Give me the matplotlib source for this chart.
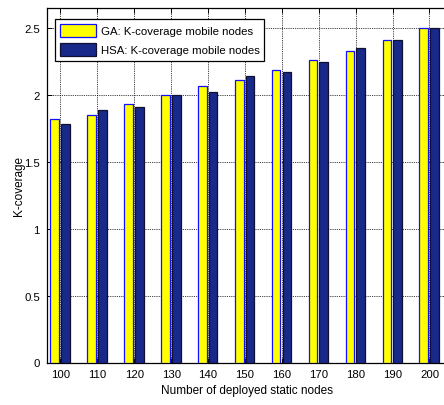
import numpy as np
import matplotlib
matplotlib.use("Agg")
import matplotlib.pyplot as plt

plt.rcParams['font.family'] = ['Liberation Sans', 'DejaVu Sans']

static_nodes = ['100', '110', '120', '130', '140', '150', '160', '170', '180', '190', '200']
ga_coverage = [1.82, 1.85, 1.93, 2.00, 2.07, 2.11, 2.19, 2.26, 2.33, 2.41, 2.50]
hsa_coverage = [1.78, 1.89, 1.91, 2.00, 2.02, 2.14, 2.17, 2.25, 2.35, 2.41, 2.50]

W, H = 444, 406
fig = plt.figure(figsize=(W / 100, H / 100), dpi=100)

# axes box in pixels (left, bottom, right, top); the right spine runs off the canvas
left_px, right_px, top_px, bottom_px = 46.7, 447.9, 9.0, 363.5
ax = fig.add_axes([left_px / W, 1 - bottom_px / H,
                   (right_px - left_px) / W, (bottom_px - top_px) / H])

x = np.arange(1, len(static_nodes) + 1)
bw = 0.235
ax.bar(x - 0.155, ga_coverage, width=bw, color='#ffff00', edgecolor='#1010ff',
       linewidth=0.9, label='GA: K-coverage mobile nodes', zorder=3)
ax.bar(x + 0.135, hsa_coverage, width=bw, color='#18298a', edgecolor='#101030',
       linewidth=0.9, label='HSA: K-coverage mobile nodes', zorder=3)

ax.set_xlim(0.626, 11.5)
ax.set_ylim(0, 2.651)
ax.set_xticks(x)
ax.set_xticklabels(static_nodes)
ax.set_yticks([0, 0.5, 1, 1.5, 2, 2.5])
ax.set_yticklabels(['0', '0.5', '1', '1.5', '2', '2.5'])

ax.grid(True, linestyle=(0, (1, 1.2)), color='black', linewidth=0.6, zorder=1)
ax.set_axisbelow(True)
ax.tick_params(direction='in', length=3.5, width=0.7, top=True, right=True,
               labelsize=8.2, colors='black')
ax.tick_params(axis='x', pad=5)
ax.tick_params(axis='y', pad=5)
for s in ax.spines.values():
    s.set_linewidth(0.9)
    s.set_color('black')

ax.set_xlabel('Number of deployed static nodes', fontsize=8.5, labelpad=3)
ax.set_ylabel('K-coverage', fontsize=8.5, labelpad=-1)

leg = ax.legend(loc='upper left', bbox_to_anchor=(8.3 / (right_px - left_px), 1 - 11 / (bottom_px - top_px)),
                borderaxespad=0, fontsize=8.2, fancybox=False, framealpha=1,
                edgecolor='black', handlelength=3.2, handleheight=1.4,
                labelspacing=0.55, borderpad=0.4, handletextpad=0.4)
leg.get_frame().set_linewidth(0.9)

fig.savefig('out.png', dpi=100)
